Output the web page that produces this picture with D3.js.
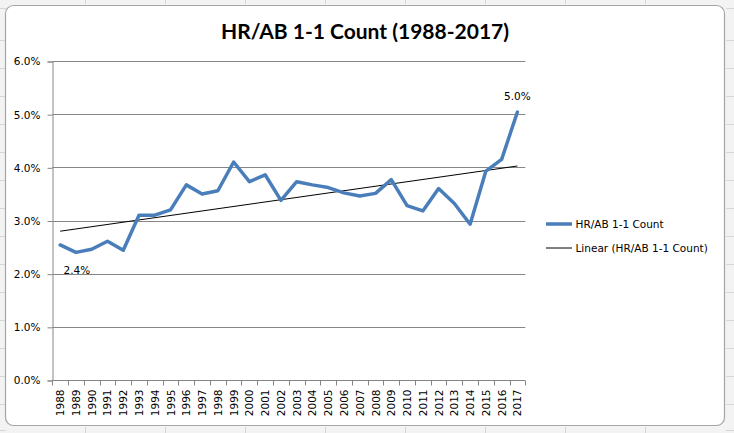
<!DOCTYPE html>
<html>
<head>
<meta charset="utf-8">
<script src="https://cdnjs.cloudflare.com/ajax/libs/d3/7.8.5/d3.min.js"></script>
<style>
  html, body { margin: 0; padding: 0; background: #f3f3f3; }
  svg { display: block; }
</style>
</head>
<body>
<div id="chart"></div>
<script>
// data (HR per AB, percent)
var years = d3.range(1988, 2018).map(String);
var values = [2.54, 2.40, 2.46, 2.61, 2.44, 3.10, 3.10, 3.20, 3.67, 3.50,
              3.56, 4.10, 3.73, 3.86, 3.38, 3.73, 3.67, 3.62, 3.52, 3.46,
              3.51, 3.77, 3.28, 3.18, 3.60, 3.32, 2.93, 3.93, 4.15, 5.04];
var yTicks = [0, 1, 2, 3, 4, 5, 6];
var seriesName = 'HR/AB 1-1 Count';
var titleText = 'HR/AB 1-1 Count (1988-2017)';

var W = 734, H = 433;
var margin = { top: 61, left: 52.3, right: 208.7, bottom: 53 };

var svg = d3.select('#chart').append('svg')
    .attr('width', W)
    .attr('height', H);

// spreadsheet grid behind the chart object
var sheet = svg.append('g').attr('stroke', '#d6d6d6').attr('stroke-width', 1);
[8, 40, 68, 96, 124, 152, 180, 208, 236, 264, 292, 320, 348, 376, 404, 430].forEach(function (y) {
  sheet.append('line').attr('x1', 0).attr('x2', 6).attr('y1', y + 0.5).attr('y2', y + 0.5);
  sheet.append('line').attr('x1', 726).attr('x2', W).attr('y1', y + 0.5).attr('y2', y + 0.5);
});
[85, 165, 245, 325, 405, 485, 565, 645].forEach(function (x) {
  sheet.append('line').attr('x1', x + 0.5).attr('x2', x + 0.5).attr('y1', 0).attr('y2', 4);
  sheet.append('line').attr('x1', x + 0.5).attr('x2', x + 0.5).attr('y1', 427).attr('y2', H);
});

// chart area frame
svg.append('rect')
    .attr('x', 5.5).attr('y', 5.5)
    .attr('width', 719).attr('height', 420)
    .attr('rx', 8).attr('ry', 8)
    .attr('fill', '#ffffff')
    .attr('stroke', '#a6a6a6')
    .attr('stroke-width', 1.2);

var x = d3.scaleBand()
    .domain(years)
    .range([margin.left, W - margin.right]);

var y = d3.scaleLinear()
    .domain([0, 6])
    .range([H - margin.bottom, margin.top]);

var fmt = function (d) { return d.toFixed(1) + '%'; };
var axisFont = '"DejaVu Sans", Verdana, sans-serif';

// gridlines
svg.append('g')
  .selectAll('line')
  .data(yTicks.slice(1))
  .enter()
  .append('line')
    .attr('x1', margin.left)
    .attr('x2', W - margin.right)
    .attr('y1', function (d) { return Math.round(y(d)) + 0.5; })
    .attr('y2', function (d) { return Math.round(y(d)) + 0.5; })
    .attr('stroke', '#868686');

// y axis
var gy = svg.append('g')
    .attr('transform', 'translate(' + (Math.round(margin.left) + 0.5) + ',0.5)')
    .call(d3.axisLeft(y).tickValues(yTicks).tickFormat(fmt).tickSize(5).tickPadding(7));
gy.select('.domain').attr('stroke', '#868686');
gy.selectAll('.tick line').attr('stroke', '#868686');
gy.selectAll('.tick text')
    .attr('font-family', axisFont)
    .attr('font-size', 10.5)
    .attr('fill', '#000');

// x axis with ticks between categories
var gx = svg.append('g')
    .attr('transform', 'translate(0,' + (Math.round(y(0)) + 0.5) + ')');
gx.append('line')
    .attr('x1', margin.left).attr('x2', W - margin.right)
    .attr('stroke', '#868686');
gx.selectAll('.tk')
  .data(years.concat(['end']))
  .enter()
  .append('line')
    .attr('class', 'tk')
    .attr('x1', function (d, i) { return Math.round(margin.left + i * x.step()) + 0.5; })
    .attr('x2', function (d, i) { return Math.round(margin.left + i * x.step()) + 0.5; })
    .attr('y1', 0).attr('y2', 5)
    .attr('stroke', '#868686');
gx.selectAll('text')
  .data(years)
  .enter()
  .append('text')
    .attr('transform', function (d) {
      return 'translate(' + (x(d) + x.bandwidth() / 2 + 4) + ',9) rotate(-90)';
    })
    .attr('text-anchor', 'end')
    .attr('font-family', axisFont)
    .attr('font-size', 10.5)
    .attr('fill', '#000')
    .text(function (d) { return d; });

// linear trendline (least squares over the category index)
var n = values.length;
var xs = d3.range(n);
var mx = d3.mean(xs), my = d3.mean(values);
var slope = d3.sum(xs, function (i) { return (i - mx) * (values[i] - my); }) /
            d3.sum(xs, function (i) { return (i - mx) * (i - mx); });
var icpt = my - slope * mx;
var cx = function (i) { return x(years[i]) + x.bandwidth() / 2; };

svg.append('line')
    .attr('x1', cx(0)).attr('y1', y(icpt))
    .attr('x2', cx(n - 1)).attr('y2', y(icpt + slope * (n - 1)))
    .attr('stroke', '#000')
    .attr('stroke-width', 1);

// series line
var line = d3.line()
    .x(function (d, i) { return cx(i); })
    .y(function (d) { return y(d); });

svg.append('path')
    .datum(values)
    .attr('d', line)
    .attr('fill', 'none')
    .attr('stroke', '#4a7ebb')
    .attr('stroke-width', 3.5)
    .attr('stroke-linejoin', 'round')
    .attr('stroke-linecap', 'round');

// data labels on min and max
var iMin = d3.minIndex(values), iMax = d3.maxIndex(values);
svg.append('text')
    .attr('x', cx(iMin) + 1)
    .attr('y', y(values[iMin]) + 22)
    .attr('text-anchor', 'middle')
    .attr('font-family', axisFont)
    .attr('font-size', 10.5)
    .text(fmt(values[iMin]));
svg.append('text')
    .attr('x', cx(iMax))
    .attr('y', y(values[iMax]) - 12)
    .attr('text-anchor', 'middle')
    .attr('font-family', axisFont)
    .attr('font-size', 10.5)
    .text(fmt(values[iMax]));

// title
svg.append('text')
    .attr('x', 365)
    .attr('y', 38.5)
    .attr('text-anchor', 'middle')
    .attr('font-family', 'Lato, "Open Sans", sans-serif')
    .attr('font-weight', 'bold')
    .attr('font-size', 21)
    .text(titleText);

// legend
var legend = svg.append('g').attr('transform', 'translate(546,0)');
var items = [
  { label: seriesName, color: '#4a7ebb', width: 3.5, y: 224 },
  { label: 'Linear (' + seriesName + ')', color: '#000', width: 1, y: 248 }
];
items.forEach(function (it) {
  legend.append('line')
      .attr('x1', 0).attr('x2', 26)
      .attr('y1', it.y).attr('y2', it.y)
      .attr('stroke', it.color)
      .attr('stroke-width', it.width);
  legend.append('text')
      .attr('x', 29.5)
      .attr('y', it.y + 4)
      .attr('font-family', axisFont)
      .attr('font-size', 10.5)
      .attr('fill', '#000')
      .text(it.label);
});
</script>
</body>
</html>
